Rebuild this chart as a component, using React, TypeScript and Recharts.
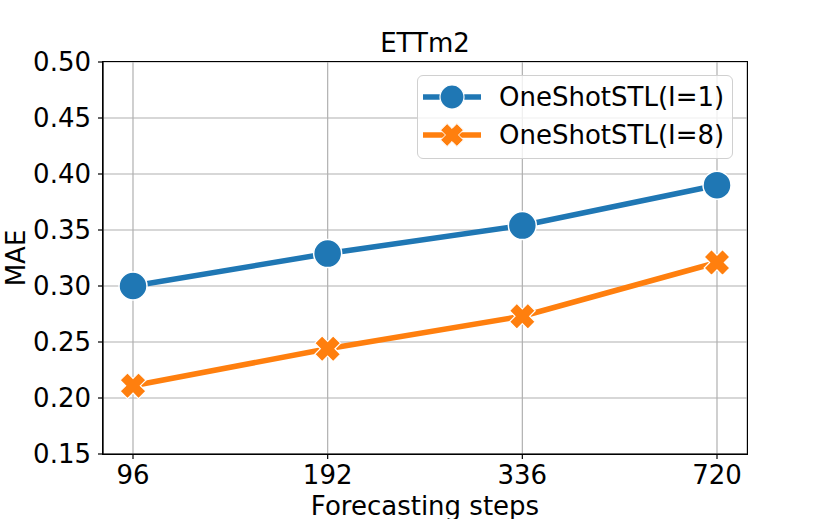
import React from 'react';
import { LineChart, Line, XAxis, YAxis, CartesianGrid } from 'recharts';

const steps = ['96', '192', '336', '720'];
const maeL1 = [0.300, 0.329, 0.354, 0.390];
const maeL8 = [0.211, 0.244, 0.273, 0.321];
const yTicks = [0.15, 0.2, 0.25, 0.3, 0.35, 0.4, 0.45, 0.5];
const seriesNames = ['OneShotSTL(I=1)', 'OneShotSTL(I=8)'];
const title = 'ETTm2';

const BLUE = '#1f77b4';
const ORANGE = '#ff7f0e';
const FONT = 'DejaVu Sans';
const FS = 26;

const data = steps.map((s, i) => ({ step: s, l1: maeL1[i], l8: maeL8[i] }));

function xPath(cx: number, cy: number, L: number, h: number) {
  const pts: [number, number][] = [
    [h, h], [L, h], [L, -h], [h, -h], [h, -L], [-h, -L],
    [-h, -h], [-L, -h], [-L, h], [-h, h], [-h, L], [h, L],
  ];
  const r = Math.SQRT1_2;
  return (
    'M' +
    pts
      .map(([u, v]) => `${(cx + (u - v) * r).toFixed(2)},${(cy + (u + v) * r).toFixed(2)}`)
      .join('L') +
    'Z'
  );
}

const CircleDot = (props: any) => {
  const { cx, cy, index } = props;
  return <circle key={`c${index}`} cx={cx} cy={cy} r={14} fill={BLUE} stroke="#fff" strokeWidth={1.5} />;
};

const XDot = (props: any) => {
  const { cx, cy, index } = props;
  return <path key={`x${index}`} d={xPath(cx, cy, 13, 5.2)} fill={ORANGE} stroke="#fff" strokeWidth={1.2} />;
};

const LegendBox = () => (
  <div
    style={{
      position: 'absolute',
      left: 417,
      top: 75,
      width: 316,
      height: 84,
      boxSizing: 'border-box',
      border: '1.2px solid #d0d0d0',
      borderRadius: 6,
      background: 'rgba(255,255,255,0.8)',
    }}
  >
    <svg width={316} height={84} style={{ position: 'absolute', left: -1, top: -1 }}>
      <line x1={6} x2={64} y1={22} y2={22} stroke={BLUE} strokeWidth={5.5} />
      <circle cx={35} cy={22} r={12} fill={BLUE} stroke="#fff" strokeWidth={1.2} />
      <line x1={6} x2={64} y1={60} y2={60} stroke={ORANGE} strokeWidth={5.5} />
      <path d={xPath(35, 60, 11.5, 4.6)} fill={ORANGE} stroke="#fff" strokeWidth={1} />
      <text x={82} y={22} dominantBaseline="central" fontFamily={FONT} fontSize={FS} fill="#000">
        {seriesNames[0]}
      </text>
      <text x={82} y={60} dominantBaseline="central" fontFamily={FONT} fontSize={FS} fill="#000">
        {seriesNames[1]}
      </text>
    </svg>
  </div>
);

const YLabel = (props: any) => {
  const vb = props.viewBox || {};
  const cy = (vb.y || 62) + (vb.height || 392) / 2;
  return (
    <text
      x={16}
      y={cy}
      transform={`rotate(-90, 16, ${cy})`}
      textAnchor="middle"
      dominantBaseline="central"
      fontFamily={FONT}
      fontSize={FS}
      fill="#000"
    >
      MAE
    </text>
  );
};

export default function App() {
  return (
    <div style={{ position: 'absolute', left: 0, top: 0, width: 830, height: 519, background: '#fff' }}>
      <LineChart width={830} height={519} data={data} margin={{ top: 62, right: 83, bottom: 0, left: 0 }}>
        <CartesianGrid stroke="#b0b0b0" strokeWidth={1.2} />
        <XAxis
          dataKey="step"
          type="category"
          padding={{ left: 30, right: 30 }}
          height={65}
          tickSize={5}
          tickMargin={7}
          axisLine={{ stroke: '#000', strokeWidth: 1.2 }}
          tickLine={{ stroke: '#000', strokeWidth: 1.2 }}
          tick={{ fill: '#000', fontSize: FS, fontFamily: FONT }}
          label={{ value: 'Forecasting steps', position: 'insideBottom', offset: 4, fill: '#000', fontSize: FS, fontFamily: FONT }}
        />
        <YAxis
          domain={[0.15, 0.5]}
          ticks={yTicks}
          type="number"
          width={103}
          tickSize={5}
          tickMargin={7}
          interval={0}
          tickFormatter={(v: number) => v.toFixed(2)}
          axisLine={{ stroke: '#000', strokeWidth: 1.2 }}
          tickLine={{ stroke: '#000', strokeWidth: 1.2 }}
          tick={{ fill: '#000', fontSize: FS, fontFamily: FONT }}
          label={<YLabel />}
        />
        <Line
          dataKey="l1"
          name={seriesNames[0]}
          stroke={BLUE}
          strokeWidth={5.5}
          dot={CircleDot}
          activeDot={false}
          isAnimationActive={false}
        />
        <Line
          dataKey="l8"
          name={seriesNames[1]}
          stroke={ORANGE}
          strokeWidth={5.5}
          dot={XDot}
          activeDot={false}
          isAnimationActive={false}
        />
      </LineChart>
      <div
        style={{
          position: 'absolute',
          left: 102.4,
          top: 61.4,
          width: 645.2,
          height: 393.2,
          boxSizing: 'border-box',
          border: '1.2px solid #000',
          pointerEvents: 'none',
        }}
      />
      <div
        style={{
          position: 'absolute',
          left: 103,
          width: 644,
          top: 30,
          textAlign: 'center',
          fontFamily: FONT,
          fontSize: FS,
          lineHeight: '26px',
          color: '#000',
        }}
      >
        {title}
      </div>
      <LegendBox />
    </div>
  );
}
